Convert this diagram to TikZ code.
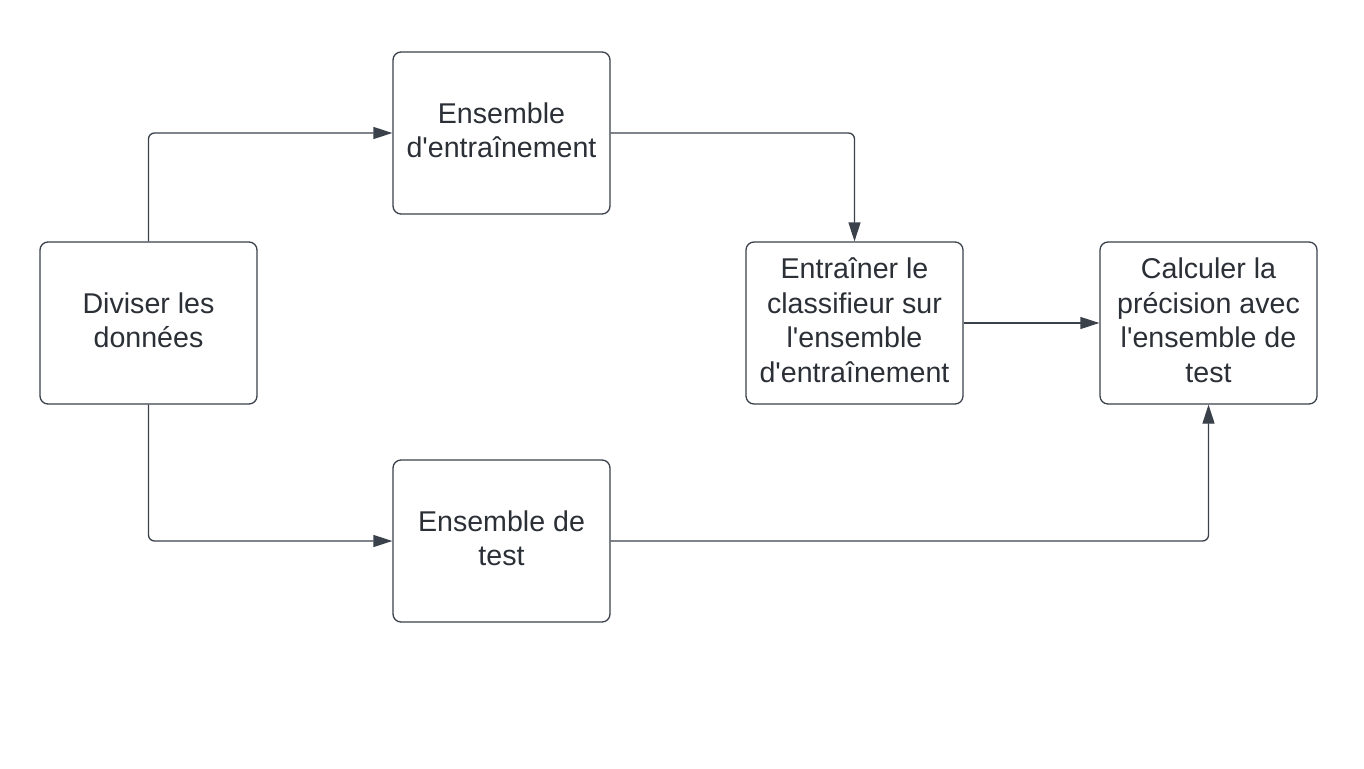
\documentclass[tikz,border=0pt]{standalone}
\usepackage{fontspec}
\setmainfont{Liberation Sans}
\usetikzlibrary{arrows.meta}
\definecolor{linegray}{HTML}{3A414A}
\definecolor{textgray}{HTML}{2B2F36}
\newcommand{\apos}{\textquotesingle}

\begin{document}
\begin{tikzpicture} [
  x=1pt, y=-1pt,
  node distance=354pt,
  flow/.style={draw=linegray, line width=1.3pt, rounded corners=6pt,
    -{Triangle[length=19pt,width=12pt]}},
  main box/.style={rectangle, draw=linegray, line width=1.3pt,
    rounded corners=8pt, align=center, text=textgray,
    minimum width=217pt, minimum height=162pt, inner sep=0pt,
    text depth=6pt, font=\fontsize{28.6}{34.5}\selectfont},
  ]
  \useasboundingbox[fill=white] (0,0) rectangle (1364,768);

  \node[main box] (split) at (148.5,323) {Diviser les\\donn\'ees};
  \node[main box] (trainset) at (501.5,133) {Ensemble\\d\apos entra\^{\i}nement};
  \node[main box] (testset) at (501.5,541) {Ensemble de\\test};
  \node[main box] (fit) at (854.5,323)
    {Entra\^{\i}ner le\\classifieur sur\\l\apos ensemble\\d\apos entra\^{\i}nement};
  \node[main box, right of=fit] (score)
    {Calculer la\\pr\'ecision avec\\l\apos ensemble de\\test};

  \draw[flow] (split) |- (trainset);
  \draw[flow] (split) |- (testset);
  \draw[flow] (trainset) -| (fit);
  \draw[flow] (fit) -- (score);
  \draw[flow] (testset) -| (score);
\end{tikzpicture}
\end{document}
